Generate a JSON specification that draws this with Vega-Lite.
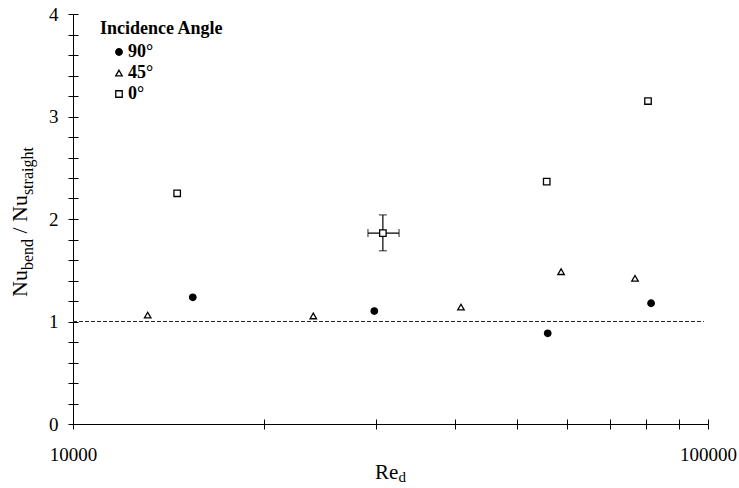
{
  "$schema": "https://vega.github.io/schema/vega-lite/v6.json",
  "width": 635,
  "height": 410,
  "autosize": {"type": "none"},
  "padding": {"left": 73, "top": 14, "right": 31, "bottom": 64},
  "background": "white",
  "config": {
    "view": {"stroke": null},
    "font": "'Liberation Serif', 'Times New Roman', 'DejaVu Serif', serif",
    "text": {"font": "'Liberation Serif', 'Times New Roman', 'DejaVu Serif', serif"},
    "axis": {"grid": false, "domainColor": "black", "tickColor": "black", "labelColor": "black", "labelFont": "'Liberation Serif', 'Times New Roman', 'DejaVu Serif', serif", "labelFontSize": 19, "domainWidth": 1, "tickWidth": 1},
    "legend": {"titleFont": "'Liberation Serif', 'Times New Roman', 'DejaVu Serif', serif", "labelFont": "'Liberation Serif', 'Times New Roman', 'DejaVu Serif', serif"}
  },
  "datasets": {
    "points": [
      {"Re": 15440, "ratio": 1.236, "angle": "90°"},
      {"Re": 29820, "ratio": 1.102, "angle": "90°"},
      {"Re": 55920, "ratio": 0.885, "angle": "90°"},
      {"Re": 81350, "ratio": 1.178, "angle": "90°"},
      {"Re": 13110, "ratio": 1.063, "angle": "45°"},
      {"Re": 23900, "ratio": 1.054, "angle": "45°"},
      {"Re": 40830, "ratio": 1.141, "angle": "45°"},
      {"Re": 58700, "ratio": 1.486, "angle": "45°"},
      {"Re": 76740, "ratio": 1.421, "angle": "45°"},
      {"Re": 14590, "ratio": 2.251, "angle": "0°"},
      {"Re": 30760, "ratio": 1.863, "angle": "0°"},
      {"Re": 55720, "ratio": 2.364, "angle": "0°"},
      {"Re": 80450, "ratio": 3.151, "angle": "0°"}
    ],
    "err": [
      {"Re": 30760, "ratio": 1.863, "Re_lo": 29140, "Re_hi": 32620, "ratio_lo": 1.69, "ratio_hi": 2.04}
    ]
  },
  "resolve": {"axis": {"x": "independent", "y": "independent"}},
  "layer": [
    {
      "data": {"values": [{}]},
      "mark": {"type": "rule", "color": "#222", "strokeWidth": 1, "strokeDash": [4, 2]},
      "encoding": {
        "x": {"datum": 10000, "type": "quantitative", "axis": {"title": null, "orient": "bottom", "values": [10000, 20000, 30000, 40000, 50000, 60000, 70000, 80000, 90000, 100000], "labels": false, "domain": false, "tickSize": -5}},
        "x2": {"datum": 98500},
        "y": {"datum": 1, "type": "quantitative", "axis": {"title": null, "orient": "left", "values": [0, 0.2, 0.4, 0.6, 0.8, 1, 1.2, 1.4, 1.6, 1.8, 2, 2.2, 2.4, 2.6, 2.8, 3, 3.2, 3.4, 3.6, 3.8, 4], "labels": false, "domain": false, "tickSize": -5}}
      }
    },
    {
      "data": {"name": "err"},
      "mark": {"type": "rule", "color": "black", "strokeWidth": 1.2},
      "encoding": {
        "x": {"field": "Re", "type": "quantitative", "axis": null},
        "y": {"field": "ratio_lo", "type": "quantitative", "axis": null},
        "y2": {"field": "ratio_hi"}
      }
    },
    {
      "data": {"name": "err"},
      "mark": {"type": "rule", "color": "black", "strokeWidth": 1.2},
      "encoding": {
        "x": {"field": "Re_lo", "type": "quantitative", "axis": null},
        "x2": {"field": "Re_hi"},
        "y": {"field": "ratio", "type": "quantitative", "axis": null}
      }
    },
    {
      "data": {"name": "err"},
      "mark": {"type": "tick", "orient": "horizontal", "size": 8, "thickness": 1.2, "color": "black"},
      "encoding": {
        "x": {"field": "Re", "type": "quantitative", "axis": null},
        "y": {"field": "ratio_lo", "type": "quantitative", "axis": null}
      }
    },
    {
      "data": {"name": "err"},
      "mark": {"type": "tick", "orient": "horizontal", "size": 8, "thickness": 1.2, "color": "black"},
      "encoding": {
        "x": {"field": "Re", "type": "quantitative", "axis": null},
        "y": {"field": "ratio_hi", "type": "quantitative", "axis": null}
      }
    },
    {
      "data": {"name": "err"},
      "mark": {"type": "tick", "orient": "vertical", "size": 8, "thickness": 1.2, "color": "black"},
      "encoding": {
        "x": {"field": "Re_lo", "type": "quantitative", "axis": null},
        "y": {"field": "ratio", "type": "quantitative", "axis": null}
      }
    },
    {
      "data": {"name": "err"},
      "mark": {"type": "tick", "orient": "vertical", "size": 8, "thickness": 1.2, "color": "black"},
      "encoding": {
        "x": {"field": "Re_hi", "type": "quantitative", "axis": null},
        "y": {"field": "ratio", "type": "quantitative", "axis": null}
      }
    },
    {
      "data": {"name": "points"},
      "mark": {"type": "point", "filled": false, "strokeWidth": 1.3, "opacity": 1, "size": 42},
      "encoding": {
        "x": {"field": "Re", "type": "quantitative", "scale": {"type": "log", "domain": [10000, 100000]},
          "axis": {"title": null, "orient": "bottom", "values": [10000, 20000, 30000, 40000, 50000, 60000, 70000, 80000, 90000, 100000], "labelExpr": "datum.value == 10000 || datum.value == 100000 ? format(datum.value, 'd') : ''", "tickSize": 5, "labelPadding": 16, "labelFlush": false, "labelOverlap": false}},
        "y": {"field": "ratio", "type": "quantitative", "scale": {"domain": [0, 4]},
          "axis": {"title": null, "orient": "left", "values": [0, 0.2, 0.4, 0.6, 0.8, 1, 1.2, 1.4, 1.6, 1.8, 2, 2.2, 2.4, 2.6, 2.8, 3, 3.2, 3.4, 3.6, 3.8, 4], "labelExpr": "abs(datum.value - round(datum.value)) < 0.001 ? format(datum.value, 'd') : ''", "tickSize": 5, "labelPadding": 10, "labelOverlap": false}},
        "shape": {"field": "angle", "type": "nominal", "title": "Incidence Angle",
          "scale": {"domain": ["90°", "45°", "0°"], "range": ["circle", "triangle-up", "square"]},
          "legend": {"orient": "none", "legendX": 27, "legendY": 6, "title": "Incidence Angle", "titleFontSize": 18, "titleFontWeight": "bold", "titleColor": "black", "titlePadding": 5, "labelFontSize": 18, "labelFontWeight": "bold", "labelColor": "black", "padding": 0, "rowPadding": 3, "symbolOffset": 10, "labelOffset": 0, "symbolStrokeWidth": 1.3, "symbolSize": 42}},
        "fill": {"field": "angle", "type": "nominal", "title": "Incidence Angle",
          "scale": {"domain": ["90°", "45°", "0°"], "range": ["black", "white", "white"]}},
        "stroke": {"field": "angle", "type": "nominal", "title": "Incidence Angle",
          "scale": {"domain": ["90°", "45°", "0°"], "range": ["black", "black", "black"]}}
      }
    },
    {
      "data": {"values": [{}]},
      "mark": {"type": "text", "text": "Nu", "angle": 270, "align": "left", "baseline": "alphabetic", "fontSize": 22, "dx": 0, "dy": -46, "color": "black"},
      "encoding": {"x": {"datum": 10000, "type": "quantitative", "axis": null}, "y": {"datum": 1.239, "type": "quantitative", "axis": null}}
    },
    {
      "data": {"values": [{}]},
      "mark": {"type": "text", "text": "bend", "angle": 270, "align": "left", "baseline": "alphabetic", "fontSize": 16, "dx": 26.9, "dy": -40, "color": "black"},
      "encoding": {"x": {"datum": 10000, "type": "quantitative", "axis": null}, "y": {"datum": 1.239, "type": "quantitative", "axis": null}}
    },
    {
      "data": {"values": [{}]},
      "mark": {"type": "text", "text": "/", "angle": 270, "align": "center", "baseline": "alphabetic", "fontSize": 22, "dx": 66.5, "dy": -46, "color": "black"},
      "encoding": {"x": {"datum": 10000, "type": "quantitative", "axis": null}, "y": {"datum": 1.239, "type": "quantitative", "axis": null}}
    },
    {
      "data": {"values": [{}]},
      "mark": {"type": "text", "text": "Nu", "angle": 270, "align": "left", "baseline": "alphabetic", "fontSize": 22, "dx": 75, "dy": -46, "color": "black"},
      "encoding": {"x": {"datum": 10000, "type": "quantitative", "axis": null}, "y": {"datum": 1.239, "type": "quantitative", "axis": null}}
    },
    {
      "data": {"values": [{}]},
      "mark": {"type": "text", "text": "straight", "angle": 270, "align": "left", "baseline": "alphabetic", "fontSize": 16, "dx": 101.9, "dy": -40, "color": "black"},
      "encoding": {"x": {"datum": 10000, "type": "quantitative", "axis": null}, "y": {"datum": 1.239, "type": "quantitative", "axis": null}}
    },
    {
      "data": {"values": [{}]},
      "mark": {"type": "text", "text": "Re", "align": "left", "baseline": "alphabetic", "fontSize": 21, "dx": 0, "dy": 55, "color": "black"},
      "encoding": {"x": {"datum": 29900, "type": "quantitative", "axis": null}, "y": {"datum": 0, "type": "quantitative", "axis": null}}
    },
    {
      "data": {"values": [{}]},
      "mark": {"type": "text", "text": "d", "align": "left", "baseline": "alphabetic", "fontSize": 15, "dx": 23.5, "dy": 58, "color": "black"},
      "encoding": {"x": {"datum": 29900, "type": "quantitative", "axis": null}, "y": {"datum": 0, "type": "quantitative", "axis": null}}
    }
  ]
}
